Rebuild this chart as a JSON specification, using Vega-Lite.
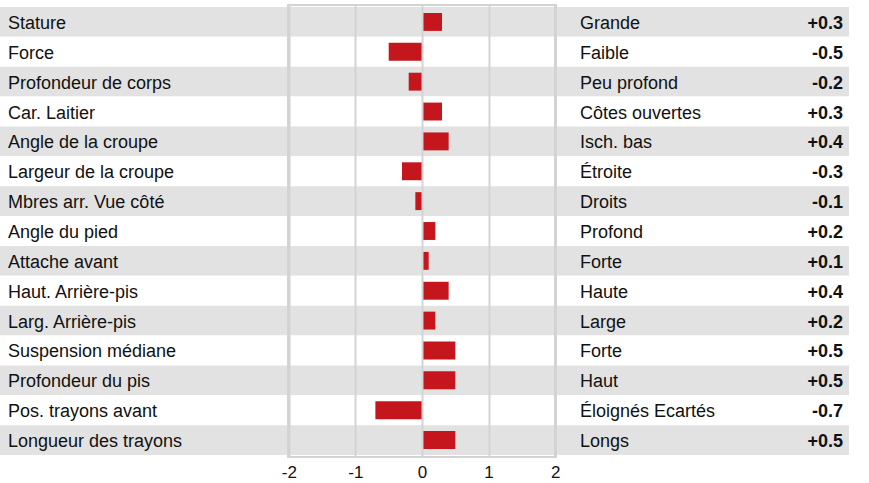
{
  "$schema": "https://vega.github.io/schema/vega-lite/v6.json",
  "width": 849,
  "height": 452,
  "padding": {"left": 0, "top": 5, "right": 20, "bottom": 26},
  "autosize": {"type": "none"},
  "background": "white",
  "config": {
    "view": {"stroke": null},
    "font": "Liberation Sans",
    "text": {"font": "Liberation Sans"}
  },
  "data": {
    "values": [
      {"trait": "Stature", "desc": "Grande", "value": 0.3, "score": "+0.3"},
      {"trait": "Force", "desc": "Faible", "value": -0.5, "score": "-0.5"},
      {"trait": "Profondeur de corps", "desc": "Peu profond", "value": -0.2, "score": "-0.2"},
      {"trait": "Car. Laitier", "desc": "Côtes ouvertes", "value": 0.3, "score": "+0.3"},
      {"trait": "Angle de la croupe", "desc": "Isch. bas", "value": 0.4, "score": "+0.4"},
      {"trait": "Largeur de la croupe", "desc": "Étroite", "value": -0.3, "score": "-0.3"},
      {"trait": "Mbres arr. Vue côté", "desc": "Droits", "value": -0.1, "score": "-0.1"},
      {"trait": "Angle du pied", "desc": "Profond", "value": 0.2, "score": "+0.2"},
      {"trait": "Attache avant", "desc": "Forte", "value": 0.1, "score": "+0.1"},
      {"trait": "Haut. Arrière-pis", "desc": "Haute", "value": 0.4, "score": "+0.4"},
      {"trait": "Larg. Arrière-pis", "desc": "Large", "value": 0.2, "score": "+0.2"},
      {"trait": "Suspension médiane", "desc": "Forte", "value": 0.5, "score": "+0.5"},
      {"trait": "Profondeur du pis", "desc": "Haut", "value": 0.5, "score": "+0.5"},
      {"trait": "Pos. trayons avant", "desc": "Éloignés Ecartés", "value": -0.7, "score": "-0.7"},
      {"trait": "Longueur des trayons", "desc": "Longs", "value": 0.5, "score": "+0.5"}
    ]
  },
  "transform": [
    {"window": [{"op": "row_number", "as": "idx"}]}
  ],
  "encoding": {
    "y": {
      "field": "trait",
      "type": "nominal",
      "sort": null,
      "axis": null,
      "scale": {"paddingInner": 0, "paddingOuter": 0.067}
    }
  },
  "layer": [
    {
      "mark": {"type": "rect"},
      "encoding": {
        "color": {
          "condition": {"test": "datum.idx % 2 == 1", "value": "#e2e2e2"},
          "value": "#ffffff"
        }
      }
    },
    {
      "mark": {"type": "rect", "fill": null, "stroke": "#d3d3d3", "strokeWidth": 2},
      "encoding": {
        "y": null,
        "x": {"datum": -2, "type": "quantitative"},
        "x2": {"datum": 2}
      }
    },
    {
      "mark": {"type": "bar", "color": "#c5161d", "height": {"band": 0.6}},
      "encoding": {
        "x": {
          "field": "value",
          "type": "quantitative",
          "scale": {"domain": [-6.336, 6.411], "nice": false, "zero": false},
          "axis": {
            "values": [-2, -1, 0, 1, 2],
            "labelExpr": "'' + datum.value",
            "title": null,
            "grid": true,
            "gridColor": "#d3d3d3",
            "gridWidth": 2,
            "domain": false,
            "ticks": false,
            "labelFontSize": 17,
            "labelColor": "#111111",
            "labelPadding": 7,
            "labelFont": "Liberation Sans",
            "zindex": 1
          }
        },
        "x2": {"datum": 0}
      }
    },
    {
      "mark": {"type": "text", "align": "left", "baseline": "middle", "dy": 2, "fontSize": 18, "color": "#111111"},
      "encoding": {
        "x": {"datum": -6.216, "type": "quantitative"},
        "text": {"field": "trait"}
      }
    },
    {
      "mark": {"type": "text", "align": "left", "baseline": "middle", "dy": 2, "fontSize": 18, "color": "#111111"},
      "encoding": {
        "x": {"datum": 2.372, "type": "quantitative"},
        "text": {"field": "desc"}
      }
    },
    {
      "mark": {"type": "text", "align": "right", "baseline": "middle", "dy": 2, "fontSize": 18, "fontWeight": "bold", "color": "#111111"},
      "encoding": {
        "x": {"datum": 6.321, "type": "quantitative"},
        "text": {"field": "score"}
      }
    }
  ]
}
